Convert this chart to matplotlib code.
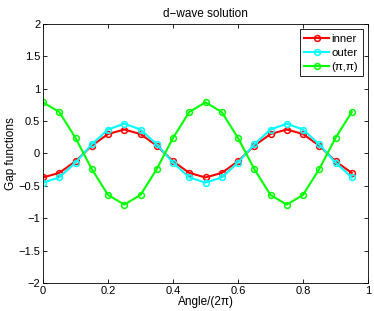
import matplotlib
matplotlib.use("Agg")
import matplotlib.pyplot as plt

plt.rcParams['font.family'] = ['Liberation Sans', 'DejaVu Sans']

angle = [0.0, 0.05, 0.1, 0.15, 0.2, 0.25, 0.3, 0.35, 0.4, 0.45,
         0.5, 0.55, 0.6, 0.65, 0.7, 0.75, 0.8, 0.85, 0.9, 0.95]
inner = [-0.37, -0.30, -0.12, 0.12, 0.30, 0.37, 0.30, 0.12, -0.12, -0.30,
         -0.37, -0.30, -0.12, 0.12, 0.30, 0.37, 0.30, 0.12, -0.12, -0.30]
outer = [-0.45, -0.37, -0.14, 0.14, 0.37, 0.46, 0.37, 0.14, -0.14, -0.37,
         -0.45, -0.37, -0.14, 0.14, 0.37, 0.46, 0.37, 0.14, -0.14, -0.37]
pipi = [0.79, 0.64, 0.24, -0.24, -0.64, -0.79, -0.64, -0.24, 0.24, 0.64,
        0.79, 0.64, 0.24, -0.24, -0.64, -0.79, -0.64, -0.24, 0.24, 0.64]
labels = ["inner", "outer", "(\u03c0,\u03c0)"]
colors = ["#ff0000", "#00ffff", "#00ff00"]
xticks = [0, 0.2, 0.4, 0.6, 0.8, 1]
yticks = [-2, -1.5, -1, -0.5, 0, 0.5, 1, 1.5, 2]

fig = plt.figure(figsize=(3.74, 3.11), dpi=100)
ax = fig.add_axes([0.115, 0.09, 0.869, 0.833])
for ys, lab, c in zip([inner, outer, pipi], labels, colors):
    ax.plot(angle, ys, '-o', color=c, lw=1.5, ms=4.2, mfc='none', mew=1.1, label=lab)

ax.set_xlim(0, 1)
ax.set_ylim(-2, 2)
ax.set_xticks(xticks)
ax.set_yticks(yticks)
ax.set_xticklabels([f"{t:g}" for t in xticks])
ax.set_yticklabels([f"{t:g}".replace('-', '\u2212') for t in yticks])
ax.tick_params(direction='in', top=True, right=True, labelsize=8, length=3, width=0.6, pad=2)
for s in ax.spines.values():
    s.set_linewidth(0.6)
ax.set_title("d\u2212wave solution", fontsize=8.5, pad=5)
ax.set_xlabel("Angle/(2\u03c0)", fontsize=8.5, labelpad=0)
ax.set_ylabel("Gap functions", fontsize=8.5, labelpad=1)
leg = ax.legend(loc='upper right', fontsize=8.2, fancybox=False, edgecolor='black',
                handlelength=2.2, handletextpad=0.2, borderpad=0.4, labelspacing=0.35,
                borderaxespad=0.45, framealpha=1)
leg.get_frame().set_linewidth(0.6)
fig.savefig("out.png", dpi=100)
